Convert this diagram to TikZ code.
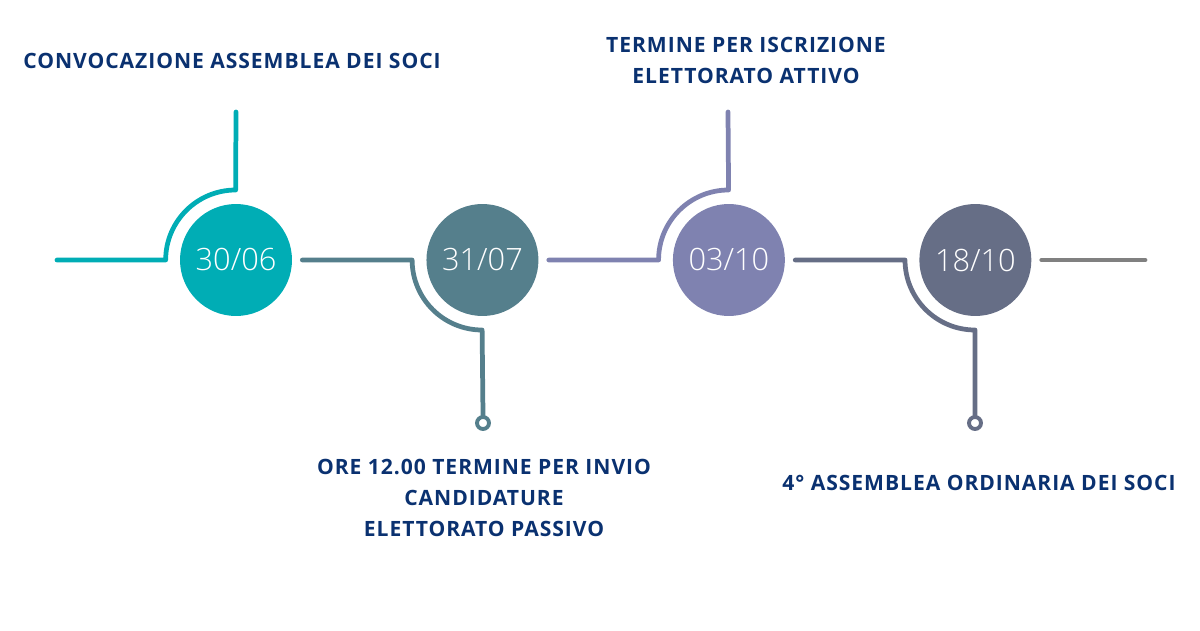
\documentclass[tikz,border=0pt]{standalone}
\usepackage{fontspec}
\setmainfont{Open Sans}
\newfontfamily\labelfont{Open Sans}[LetterSpace=4.5]
\newfontfamily\datefont{Open Sans Light}
\usetikzlibrary{positioning}

\definecolor{tealA}{HTML}{00ADB5}
\definecolor{slateA}{HTML}{557F8C}
\definecolor{lilacA}{HTML}{7F82B0}
\definecolor{duskA}{HTML}{666E86}
\definecolor{greyA}{HTML}{808080}
\definecolor{navy}{HTML}{0A3170}

\tikzset{
  date node/.style={circle, fill=#1, minimum size=2.24cm, inner sep=0pt,
    text=white, font=\datefont\fontsize{17.5}{20}\selectfont},
  stem/.style={line width=2.7pt, line cap=round, line join=round, draw=#1},
  dot/.style={circle, draw=#1, line width=2.2pt, minimum size=0.24cm, inner sep=0pt},
  label node/.style={align=center, text=navy,
    font=\labelfont\bfseries\fontsize{12}{17.6}\selectfont}
}

\begin{document}
\begin{tikzpicture}[x=0.02cm,y=0.02cm,node distance=4.93cm]
    \useasboundingbox (0,0) rectangle (1200,630);

    % dates
    \node (D1) [date node=tealA] at (236,370) {30/06};
    \node (D2) [date node=slateA, right of=D1] {31/07};
    \node (D3) [date node=lilacA, right of=D2] {03/10};
    \node (D4) [date node=duskA, right of=D3] {18/10};

    % ends of the stems
    \coordinate (Start) at (57,370);
    \coordinate (End) at (1145,370);
    \coordinate (T1) at (236,518);
    \coordinate (T3) at (728,518);
    \node (B2) [dot=slateA] at (483,207) {};
    \node (B4) [dot=duskA] at (975,207) {};

    % connectors
    \draw[stem=tealA] (Start) -- ([xshift=-0.28cm]D1.west) arc (180:90:70) -- (T1);
    \draw[stem=slateA] ([xshift=0.2cm]D1.east) -- ([xshift=-0.28cm]D2.west) arc (180:270:70) -- (B2.north);
    \draw[stem=lilacA] ([xshift=0.2cm]D2.east) -- ([xshift=-0.28cm]D3.west) arc (180:90:70) -- (T3);
    \draw[stem=duskA] ([xshift=0.2cm]D3.east) -- ([xshift=-0.28cm]D4.west) arc (180:270:70) -- (B4.north);
    \draw[stem=greyA] ([xshift=0.2cm]D4.east) -- (End);

    % labels
    \node (L1) [label node] at (232,569) {CONVOCAZIONE ASSEMBLEA DEI SOCI};
    \node (L2) [label node] at (484,132) {ORE 12.00 TERMINE PER INVIO\\CANDIDATURE\\ELETTORATO PASSIVO};
    \node (L3) [label node] at (746,570) {TERMINE PER ISCRIZIONE\\ELETTORATO ATTIVO};
    \node (L4) [label node] at (979,147) {4° ASSEMBLEA ORDINARIA DEI SOCI};

\end{tikzpicture}
\end{document}
